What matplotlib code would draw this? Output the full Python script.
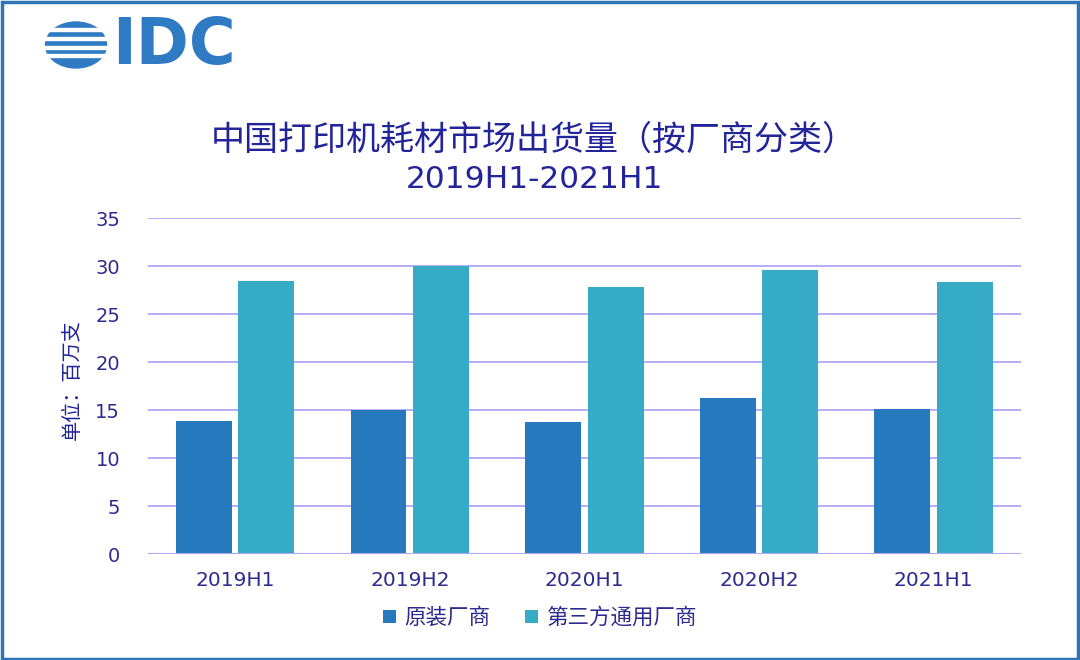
import matplotlib
matplotlib.use("Agg")
import matplotlib.pyplot as plt
import numpy as np
from matplotlib.patches import Ellipse, Rectangle

plt.rcParams['font.family'] = ['DejaVu Sans', 'Noto Sans CJK SC']

categories = ["2019H1", "2019H2", "2020H1", "2020H2", "2021H1"]
series_names = ["原装厂商", "第三方通用厂商"]
original = [13.9, 15.0, 13.7, 16.2, 15.1]
third_party = [28.4, 30.0, 27.8, 29.6, 28.3]
yticks = [0, 5, 10, 15, 20, 25, 30, 35]
title1 = "中国打印机耗材市场出货量（按厂商分类）"
title2 = "2019H1-2021H1"
ylabel = "单位：百万支"

c_orig = "#2779BD"
c_third = "#35ABC6"
navy = "#2E2A8E"
title_c = "#23239A"
grid_c = "#B0A6F2"

fig = plt.figure(figsize=(10.8, 6.6), dpi=100)
W, H = 1080, 660

# frame border
fig.patches.append(Rectangle((0.0015, 0.002), 0.997, 0.995, transform=fig.transFigure,
                             fill=False, edgecolor="#2E75B6", linewidth=2.5))

ax = fig.add_axes([148 / W, 1 - 554 / H, (1021 - 148) / W, (554 - 218) / H])
x = np.arange(len(categories))
bw = 0.32
ax.bar(x - 0.18, original, bw, color=c_orig, label=series_names[0], zorder=3)
ax.bar(x + 0.178, third_party, bw, color=c_third, label=series_names[1], zorder=3)
ax.set_xlim(-0.5, len(categories) - 0.5)
ax.set_ylim(0, 35)
ax.set_yticks(yticks)
ax.set_yticklabels([str(v) for v in yticks], color=navy, fontsize=14)
ax.set_xticks(x)
ax.set_xticklabels(categories, color=navy, fontsize=14.5)
ax.tick_params(axis='y', length=0, pad=20)
ax.tick_params(axis='x', length=0, pad=12)
ax.yaxis.grid(True, color=grid_c, linewidth=1.3, zorder=0)
for s in ax.spines.values():
    s.set_visible(False)
ax.axhline(0, color=grid_c, linewidth=1.5, zorder=4)

fig.text(72 / W, 1 - 380 / H, ylabel, rotation=90, ha='center', va='center',
         color=title_c, fontsize=14.5, family=['Noto Sans CJK SC', 'DejaVu Sans'])
fig.text(534 / W, 1 - 140 / H, title1, ha='center', va='center', color=title_c,
         fontsize=24.5, family=['Noto Sans CJK SC', 'DejaVu Sans'])
fig.text(534 / W, 1 - 180 / H, title2, ha='center', va='center', color=title_c,
         fontsize=22.5)

leg = fig.legend(loc='center', bbox_to_anchor=(540 / W, 1 - 618 / H), ncol=2, frameon=False,
                 prop={'family': ['Noto Sans CJK SC', 'DejaVu Sans'], 'size': 15.5},
                 handlelength=0.6, handleheight=0.6, handletextpad=0.4, columnspacing=1.6)
for t in leg.get_texts():
    t.set_color(navy)

# IDC logo
logo_blue = "#2E7BC4"
lax = fig.add_axes([40 / W, 1 - 74 / H, 210 / W, 58 / H])
lax.set_xlim(40, 250)
lax.set_ylim(74, 16)
lax.axis('off')
globe = Ellipse((76, 45), 61, 46, color=logo_blue)
lax.add_patch(globe)
for y0 in [28.0, 36.8, 45.6, 54.4]:
    lax.add_patch(Rectangle((40, y0), 80, 3.0, color='white'))
lax.text(112, 46, "IDC", fontsize=46, fontweight='bold', color=logo_blue,
         va='center', ha='left', family='DejaVu Sans')

fig.savefig("out.png", dpi=100, facecolor='white')
